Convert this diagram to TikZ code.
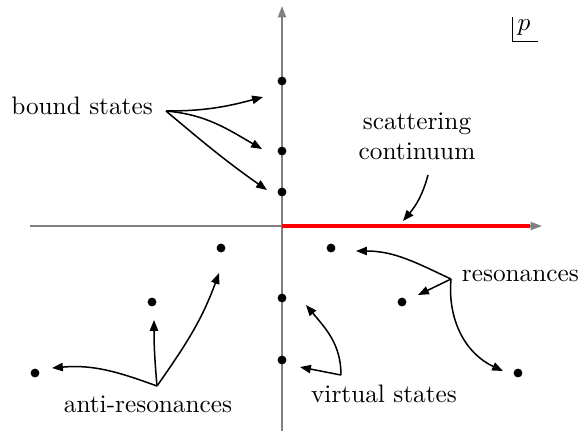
\documentclass[tikz,border=0pt]{standalone}
\usetikzlibrary{arrows.meta}
\begin{document}
\begin{tikzpicture}[x=0.0139cm,y=-0.0139cm,
  dot/.style={circle,fill,inner sep=0pt,minimum size=3.5pt},
  axis/.style={gray,semithick,-{Triangle[length=4.5pt,width=3.2pt]}},
  pointer/.style={semithick,-{Triangle[length=4.3pt,width=3.3pt]}}]
\useasboundingbox (0,0) rectangle (581,431);
% axes and continuum
\coordinate (O) at (282,226);
\draw[axis] (282,431) -- (282,6);
\draw[axis] (30,226) -- (542,226);
\draw[red,very thick] (O) -- (530,226);
% p plane label
\node (p) at (524,28) {$p$};
\draw[thin] (512,17) |- (538,41);
% poles
\node[dot] (b1) at (282,81) {};
\node[dot] (b2) at (282,151) {};
\node[dot] (b3) at (282,192) {};
\node[dot] (v1) at (282,298) {};
\node[dot] (v2) at (282,360) {};
\node[dot] (r1) at (331,248) {};
\node[dot] (r2) at (402,302) {};
\node[dot] (r3) at (518,373) {};
\node[dot] (a1) at (221,248) {};
\node[dot] (a2) at (152,302) {};
\node[dot] (a3) at (35,373) {};
% labels
\node (bound) at (82,106) {bound states};
\node[align=center] (scat) at (417,136) {scattering\\continuum};
\node[anchor=west] (reson) at (453,276) {resonances};
\node (virt) at (384,394) {virtual states};
\node (anti) at (148,404) {anti-resonances};
% arrows
\coordinate (bs) at (166,111);
\draw[pointer] (bs) to[out=0,in=195] (263,97);
\draw[pointer] (bs) to[out=-5,in=150] (262,149);
\draw[pointer] (bs) to[out=-40,in=145] (267,190);
\draw[pointer] (428,175) to[out=-105,in=50] (403,221);
\coordinate (rs) at (451,279);
\draw[pointer] (rs) to[out=155,in=0] (356,251);
\draw[pointer] (rs) -- (418,295);
\draw[pointer] (rs) to[out=-95,in=155] (503,371);
\coordinate (vs) at (341,375);
\draw[pointer] (vs) -- (300,367);
\draw[pointer] (vs) to[out=90,in=-50] (306,305);
\coordinate (as) at (157,386);
\draw[pointer] (as) to[out=160,in=5] (52,368);
\draw[pointer] (as) to[out=95,in=-90] (154,320);
\draw[pointer] (as) to[out=55,in=-110] (219,273);
\end{tikzpicture}
\end{document}
